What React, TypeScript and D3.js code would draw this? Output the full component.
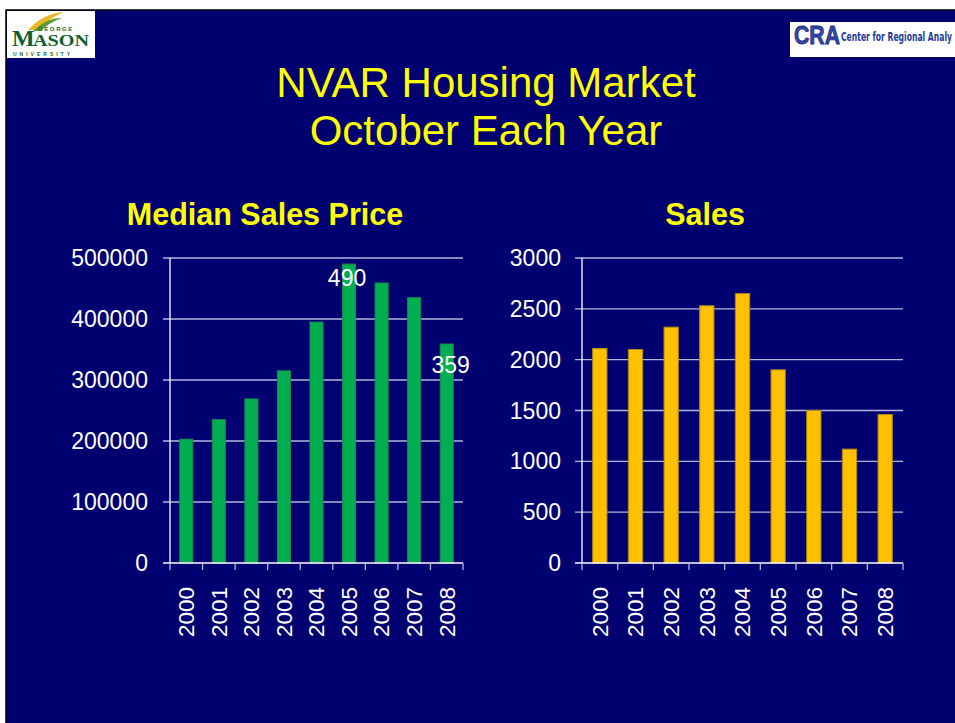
import React from "react";
import * as d3 from "d3";

const years = ["2000", "2001", "2002", "2003", "2004", "2005", "2006", "2007", "2008"];
const medianPrice = [203000, 235000, 269000, 315000, 395000, 490000, 459000, 435000, 359000];
const sales = [2110, 2100, 2320, 2530, 2650, 1900, 1500, 1120, 1460];
const priceTicks = [0, 100000, 200000, 300000, 400000, 500000];
const salesTicks = [0, 500, 1000, 1500, 2000, 2500, 3000];
const priceCallouts = [
  { year: "2005", text: "490", dx: -2, dy: 22 },
  { year: "2008", text: "359", dx: 4, dy: 29 },
];

const FONT = "'Liberation Sans', Arial, Helvetica, sans-serif";
const NAVY = "#000070";

type PanelProps = {
  x0: number; x1: number; labelRight: number; values: number[]; ticks: number[]; max: number;
  fill: string; stroke: string; title: string; titleX: number;
  callouts?: { year: string; text: string; dx: number; dy: number }[];
};

function Panel({ x0, x1, labelRight, values, ticks, max, fill, stroke, title, titleX, callouts }: PanelProps) {
  const yTop = 258, yBot = 563;
  const x = d3.scaleBand<string>().domain(years).range([x0, x1]).paddingInner(0.6).paddingOuter(0.3);
  const y = d3.scaleLinear().domain([0, max]).range([yBot, yTop]);
  const step = x.step();
  const bounds = d3.range(years.length + 1).map((i) => x0 + i * step);
  return (
    <g>
      <text x={titleX} y={225} fill="#ffff00" fontFamily={FONT} fontWeight="bold" fontSize={30.5} textAnchor="middle">{title}</text>
      {ticks.map((t) => (
        <g key={t}>
          {t > 0 && <line x1={x0 - 7} x2={x1} y1={y(t)} y2={y(t)} stroke="#b4b4dc" strokeWidth={1.3} />}
          <text x={labelRight} y={y(t)} dy="0.35em" fill="#ffffff" fontFamily={FONT} fontSize={23} textAnchor="end">{t}</text>
        </g>
      ))}
      {years.map((yr, i) => (
        <rect key={yr} x={x(yr)} y={y(values[i])} width={x.bandwidth()} height={yBot - y(values[i])} fill={fill} stroke={stroke} strokeWidth={1} />
      ))}
      <line x1={x0} x2={x0} y1={yTop} y2={yBot} stroke="#ffffff" strokeWidth={1.3} />
      <line x1={x0 - 7} x2={x1} y1={yBot} y2={yBot} stroke="#ffffff" strokeWidth={1.3} />
      {bounds.map((bx, i) => (
        <line key={i} x1={bx} x2={bx} y1={yBot} y2={yBot + 7} stroke="#b4b4dc" strokeWidth={1.3} />
      ))}
      {years.map((yr) => {
        const cx = (x(yr) as number) + x.bandwidth() / 2;
        return (
          <text key={yr} transform={`translate(${cx},${yBot + 24}) rotate(-90)`} dy="0.35em" fill="#ffffff" fontFamily={FONT} fontSize={22.5} textAnchor="end">{yr}</text>
        );
      })}
      {callouts && callouts.map((c) => {
        const i = years.indexOf(c.year);
        const cx = (x(c.year) as number) + x.bandwidth() / 2;
        return (
          <text key={c.year} x={cx + c.dx} y={y(values[i]) + c.dy} fill="#ffffff" fontFamily={FONT} fontSize={23} textAnchor="middle">{c.text}</text>
        );
      })}
    </g>
  );
}

export default function App() {
  return (
    <div style={{ position: "fixed", left: 0, top: 0 }}>
      <svg width={955} height={723} style={{ display: "block" }}>
        <rect x={0} y={0} width={955} height={723} fill="#ffffff" />
        <rect x={6} y={10} width={960} height={730} fill={NAVY} stroke="#000000" strokeWidth={1.5} />
        {/* George Mason logo */}
        <rect x={7} y={11} width={88} height={47} fill="#ffffff" />
        <path d="M28,30 Q44,13 64,12 Q50,17 39,30 Z" fill="#e8b820" />
        <path d="M33,31 Q48,17 62,18 Q48,23 41,31 Z" fill="#5a9a30" />
        <text x={38} y={31} fill="#1a6a30" fontFamily={FONT} fontWeight="bold" fontSize={6} letterSpacing={1.6}>GEORGE</text>
        <text x={12} y={46} fill="#0f6030" fontFamily="'Liberation Serif', 'DejaVu Serif', serif" fontWeight="bold" fontSize={24}>M</text>
        <text x={33} y={46} fill="#0f6030" fontFamily="'Liberation Serif', 'DejaVu Serif', serif" fontWeight="bold" fontSize={16} textLength={56} lengthAdjust="spacingAndGlyphs">ASON</text>
        <text x={13} y={56} fill="#1a6a30" fontFamily={FONT} fontWeight="bold" fontSize={5} letterSpacing={3}>UNIVERSITY</text>
        {/* CRA logo */}
        <rect x={790} y={22} width={170} height={35} fill="#ffffff" />
        <text x={794} y={44} fill="#3048a8" stroke="#1a2a7a" strokeWidth={0.8} fontFamily={FONT} fontWeight="bold" fontSize={26} textLength={46} lengthAdjust="spacingAndGlyphs">CRA</text>
        <text x={841} y={41} fill="#1f3a9a" fontFamily="'Liberation Sans Narrow', 'DejaVu Sans Condensed', sans-serif" fontWeight="bold" fontSize={12} textLength={111} lengthAdjust="spacingAndGlyphs">Center for Regional Analy</text>
        {/* Titles */}
        <text x={486} y={97} fill="#ffff00" fontFamily={FONT} fontSize={42} textAnchor="middle">NVAR Housing Market</text>
        <text x={486} y={145} fill="#ffff00" fontFamily={FONT} fontSize={42} textAnchor="middle">October Each Year</text>
        <Panel x0={170} x1={463} labelRight={148} values={medianPrice} ticks={priceTicks} max={500000}
          fill="#00b050" stroke="#1a8a50" title="Median Sales Price" titleX={265} callouts={priceCallouts} />
        <Panel x0={582} x1={903} labelRight={561} values={sales} ticks={salesTicks} max={3000}
          fill="#ffc000" stroke="#b08a10" title="Sales" titleX={705} />
      </svg>
    </div>
  );
}
